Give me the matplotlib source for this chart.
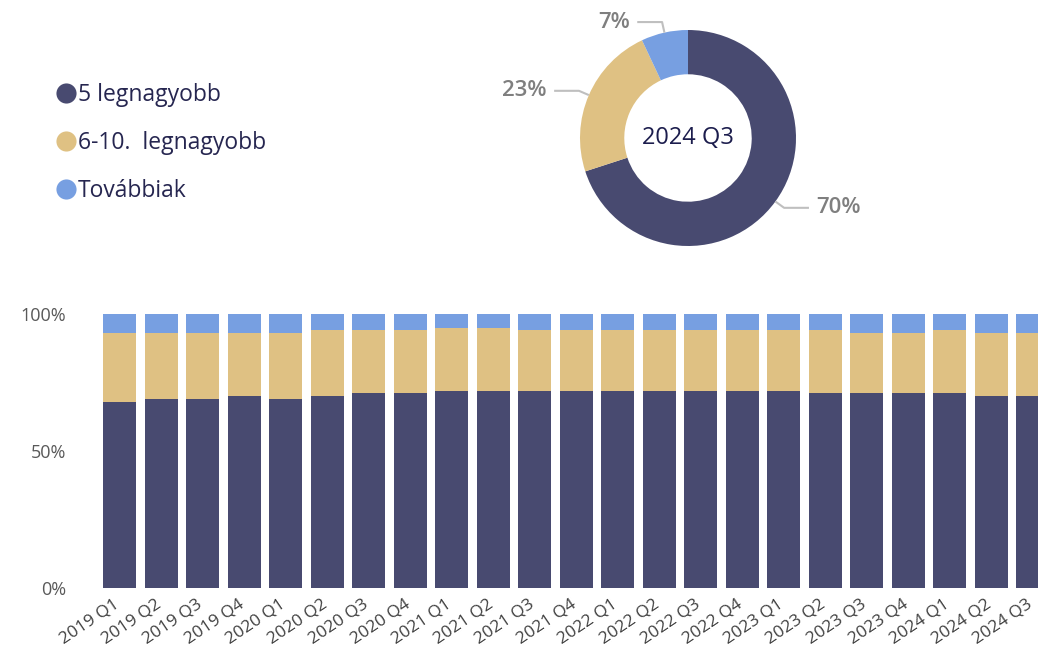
import numpy as np
import matplotlib.pyplot as plt
import matplotlib.transforms as mtransforms
from matplotlib.lines import Line2D

plt.rcParams['font.family'] = ['Open Sans', 'DejaVu Sans']

# Adatok (becsült értékek a képről, %)
quarters = ["2019 Q1", "2019 Q2", "2019 Q3", "2019 Q4",
            "2020 Q1", "2020 Q2", "2020 Q3", "2020 Q4",
            "2021 Q1", "2021 Q2", "2021 Q3", "2021 Q4",
            "2022 Q1", "2022 Q2", "2022 Q3", "2022 Q4",
            "2023 Q1", "2023 Q2", "2023 Q3", "2023 Q4",
            "2024 Q1", "2024 Q2", "2024 Q3"]
top5 = [68, 69, 69, 70, 69, 70, 71, 71, 72, 72, 72, 72,
        72, 72, 72, 72, 72, 71, 71, 71, 71, 70, 70]
next5 = [25, 24, 24, 23, 24, 24, 23, 23, 23, 23, 22, 22,
         22, 22, 22, 22, 22, 23, 22, 22, 23, 23, 23]
rest = [7, 7, 7, 7, 7, 6, 6, 6, 5, 5, 6, 6,
        6, 6, 6, 6, 6, 6, 7, 7, 6, 7, 7]

series_names = ["5 legnagyobb", "6-10.  legnagyobb", "Továbbiak"]
colors = ["#484A70", "#DFC183", "#779FE1"]

donut_title = "2024 Q3"
donut_values = [top5[-1], next5[-1], rest[-1]]

W, H = 1038, 649
fig = plt.figure(figsize=(W / 100, H / 100), dpi=100)

# --- Halmozott oszlopdiagram ---
ax = fig.add_axes([96.7 / W, 1 - 588 / H, (W - 96.7) / W, (588 - 314) / H])
x = np.arange(len(quarters))
bottom = np.zeros(len(quarters))
for vals, col in zip([top5, next5, rest], colors):
    ax.bar(x, vals, bottom=bottom, width=0.795, color=col)
    bottom += np.array(vals)

ax.set_xlim(-0.55, 22.13)
ax.set_ylim(0, 100)
ax.set_yticks([0, 50, 100])
ax.set_yticklabels(["0%", "50%", "100%"], fontsize=13, color="#595959")
ax.set_xticks(x)
ax.set_xticklabels(quarters, rotation=34, ha="right", rotation_mode="anchor",
                   fontsize=12.5, color="#404040")
ax.tick_params(axis="y", length=0, pad=22)
ax.tick_params(axis="x", length=0, pad=6)
# címkék kicsit balra tolva, mint az eredetin
shift = mtransforms.ScaledTranslation(-6 / 100, 0, fig.dpi_scale_trans)
for lbl in ax.get_xticklabels():
    lbl.set_transform(lbl.get_transform() + shift)
for s in ax.spines.values():
    s.set_visible(False)

# --- Fánk diagram ---
R = 108.0
cx, cy = 688, 138
dax = fig.add_axes([(cx - 200) / W, 1 - 260 / H, 400 / W, 260 / H])
dax.pie(donut_values, colors=colors, startangle=90, counterclock=False,
        radius=1, wedgeprops=dict(width=0.41, edgecolor="none"))
dax.set_xlim(-200 / R, 200 / R)
dax.set_ylim(-(260 - cy) / R, cy / R)
dax.set_aspect("auto")
dax.axis("off")
dax.text(0, 0, donut_title, ha="center", va="center", fontsize=17,
         color="#1C1D4D")

total = sum(donut_values)
start = 90.0
for v in donut_values:
    ang = np.deg2rad(start - v / total * 360 / 2)
    start -= v / total * 360
    x0, y0 = np.cos(ang), np.sin(ang)
    x1, y1 = 1.1 * x0, 1.1 * y0
    side = 1 if x0 > 0 else -1
    x2 = x1 + side * 0.23
    dax.plot([x0, x1, x2], [y0, y1, y1], color="#BFBFBF", lw=1.5,
             solid_capstyle="butt")
    dax.text(x2 + side * 0.07, y1, f"{v}%", ha="left" if side > 0 else "right",
             va="center", fontsize=16, color="#7F7F7F", fontweight="semibold")

# --- Jelmagyarázat ---
handles = [Line2D([], [], marker="o", ls="none", markersize=14.5,
                  markerfacecolor=c, markeredgecolor="none") for c in colors]
leg = fig.legend(handles, series_names, loc="upper left",
                 bbox_to_anchor=(36 / W, 1 - 62 / H), frameon=False,
                 fontsize=16.5, handlelength=0.8, handletextpad=0.12,
                 labelspacing=1.05)
for t in leg.get_texts():
    t.set_color("#262650")

plt.savefig("out.png", dpi=100)
